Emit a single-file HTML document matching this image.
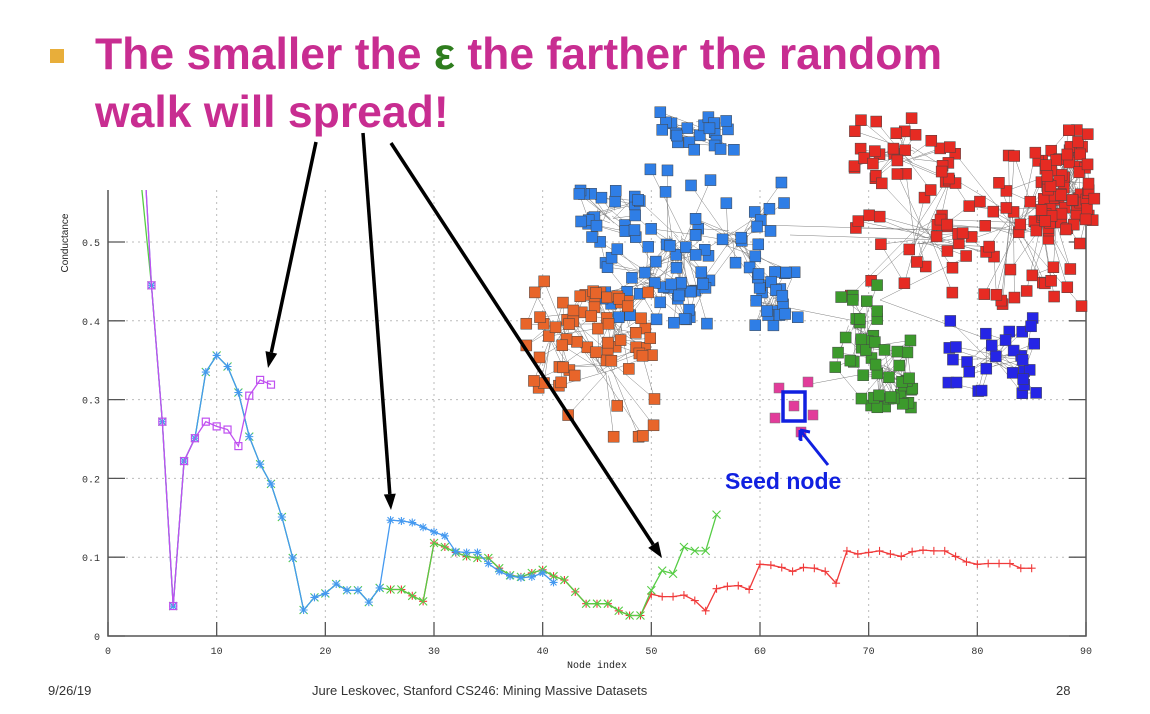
<!DOCTYPE html>
<html><head><meta charset="utf-8">
<style>
body{margin:0;background:#fff;width:1150px;height:714px;overflow:hidden;position:relative;font-family:"Liberation Sans",sans-serif}
.title{position:absolute;left:95px;top:26px;font-family:"Liberation Sans",sans-serif;font-weight:bold;font-size:44.5px;line-height:58px;color:#c82d91;letter-spacing:0px}
.bullet{position:absolute;left:50px;top:49px;width:14px;height:14px;background:#e8ae3a}
.foot{position:absolute;top:683px;font-size:13px;color:#333;font-family:"Liberation Sans Narrow","Liberation Sans",sans-serif}
svg{position:absolute;left:0;top:0}
</style></head><body>
<div class="bullet"></div>
<div class="title">The smaller the <span style="color:#2e7d1e">ε</span> the farther the random<br>walk will spread!</div>
<svg id="chart" width="1150" height="714"></svg>
<div class="foot" style="left:48px">9/26/19</div>
<div class="foot" style="left:312px">Jure Leskovec, Stanford CS246: Mining Massive Datasets</div>
<div class="foot" style="left:1056px">28</div>
<script>
const xTicks=[0,10,20,30,40,50,60,70,80,90];
const yTicks=[0,0.1,0.2,0.3,0.4,0.5];
const purpleX=[3,4,5,6,7,8,9,10,11,12,13,14,15];
const purpleY=[0.69,0.445,0.272,0.038,0.222,0.251,0.272,0.266,0.262,0.241,0.305,0.325,0.319];
const blueX=[3,4,5,6,7,8,9,10,11,12,13,14,15,16,17,18,19,20,21,22,23,24,25,26,27,28,29,30,31,32,33,34,35,36,37,38,39,40,41];
const blueY=[0.69,0.445,0.272,0.038,0.222,0.251,0.335,0.356,0.342,0.309,0.253,0.218,0.193,0.151,0.099,0.033,0.049,0.054,0.066,0.058,0.058,0.043,0.061,0.147,0.146,0.144,0.138,0.132,0.127,0.107,0.106,0.106,0.092,0.082,0.076,0.074,0.075,0.080,0.068];
const greenX=[2,4,5,6,7,8,9,10,11,12,13,14,15,16,17,18,19,20,21,22,23,24,25,26,27,28,29,30,31,32,33,34,35,36,37,38,39,40,41,42,43,44,45,46,47,48,49,50,51,52,53,54,55,56];
const greenY=[0.72,0.445,0.272,0.038,0.222,0.251,0.335,0.356,0.342,0.309,0.253,0.218,0.193,0.151,0.099,0.033,0.049,0.054,0.066,0.058,0.058,0.043,0.061,0.059,0.059,0.051,0.044,0.118,0.113,0.106,0.101,0.099,0.099,0.086,0.077,0.075,0.080,0.084,0.076,0.071,0.056,0.041,0.041,0.041,0.032,0.026,0.026,0.058,0.083,0.079,0.113,0.108,0.108,0.154];
const redX=[26,27,28,29,30,31,32,33,34,35,36,37,38,39,40,41,42,43,44,45,46,47,48,49,50,51,52,53,54,55,56,57,58,59,60,61,62,63,64,65,66,67,68,69,70,71,72,73,74,75,76,77,78,79,80,81,82,83,84,85];
const redY=[0.059,0.059,0.051,0.044,0.118,0.113,0.106,0.101,0.099,0.099,0.086,0.077,0.075,0.080,0.084,0.076,0.071,0.056,0.041,0.041,0.041,0.032,0.026,0.026,0.053,0.050,0.050,0.052,0.045,0.032,0.060,0.063,0.064,0.059,0.091,0.090,0.087,0.082,0.087,0.086,0.082,0.067,0.108,0.104,0.106,0.108,0.104,0.101,0.107,0.109,0.108,0.108,0.101,0.094,0.091,0.092,0.092,0.092,0.086,0.086];

const NS='http://www.w3.org/2000/svg';
const svg=document.getElementById('chart');
const X0=108,X1=1086,Y0=636,TOP=190;
const sx=v=>X0+(v/90)*(X1-X0);
const sy=v=>Y0-v*788;
function mk(tag,attrs,parent){const e=document.createElementNS(NS,tag);for(const k in attrs)e.setAttribute(k,attrs[k]);(parent||svg).appendChild(e);return e;}

const defs=mk('defs',{});
const cp=mk('clipPath',{id:'plotclip'},defs);
mk('rect',{x:X0,y:TOP,width:X1-X0,height:Y0-TOP},cp);

const grid=mk('g',{});


xTicks.forEach(t=>{
  if(t>0&&t<90){const l=mk('line',{x1:sx(t),x2:sx(t),y1:TOP,y2:Y0,stroke:'#bbb','stroke-dasharray':'2,4'},grid);
  
  }
  const tk=mk('line',{x1:sx(t),x2:sx(t),y1:Y0,y2:Y0-14,stroke:'#555','stroke-width':1.3});
  
  
  const tx=mk('text',{x:sx(t),y:Y0+18,'text-anchor':'middle','font-size':10,fill:'#333','font-family':'Liberation Mono, monospace'});
  tx.textContent=t;
  
  
});
yTicks.forEach(t=>{
  if(t>0){const l=mk('line',{x1:X0,x2:X1,y1:sy(t),y2:sy(t),stroke:'#bbb','stroke-dasharray':'2,4'},grid);
  
  }
  const tk=mk('line',{x1:X0,x2:X0+17,y1:sy(t),y2:sy(t),stroke:'#555','stroke-width':1.3});
  
  
  const tk2=mk('line',{x1:X1,x2:X1-17,y1:sy(t),y2:sy(t),stroke:'#555','stroke-width':1.3});
  
  
  const tx=mk('text',{x:X0-8,y:sy(t)+4,'text-anchor':'end','font-size':10,fill:'#333','font-family':'Liberation Mono, monospace'});
  tx.textContent=t===0?'0':t.toFixed(1);
  
  
});
const ax=mk('path',{d:`M${X0},${TOP} L${X0},${Y0} L${X1},${Y0} L${X1},${TOP}`,fill:'none',stroke:'#555','stroke-width':1.5});


const xt=mk('text',{x:(X0+X1)/2,y:668,'text-anchor':'middle','font-size':10,fill:'#222','font-family':'Liberation Mono, monospace'});
xt.textContent='Node index';


const yt=mk('text',{x:68,y:243,'text-anchor':'middle','font-size':10,fill:'#222',transform:'rotate(-90 68 243)','font-family':'Liberation Sans, sans-serif'});
yt.textContent='Conductance';



function series(xs,ys,color,marker,name){
  const g=mk('g',{'clip-path':'url(#plotclip)'});
  
  
  let d='';xs.forEach((x,i)=>{d+=(i?'L':'M')+sx(x)+','+sy(ys[i]);});
  mk('path',{d,fill:'none',stroke:color,'stroke-width':1.3},g);
  xs.forEach((x,i)=>{
    const cx=sx(x),cy=sy(ys[i]);
    if(cy<TOP)return;
    let m;
    if(marker==='box'){m=mk('rect',{x:cx-3.5,y:cy-3.5,width:7,height:7,fill:'none',stroke:color,'stroke-width':1.2},g);}
    else if(marker==='star'){m=mk('path',{d:`M${cx-4},${cy}h8M${cx},${cy-4}v8M${cx-3},${cy-3}l6,6M${cx-3},${cy+3}l6,-6`,stroke:color,'stroke-width':1.1},g);}
    else if(marker==='x'){m=mk('path',{d:`M${cx-4},${cy-4}l8,8M${cx-4},${cy+4}l8,-8`,stroke:color,'stroke-width':1.1},g);}
    else {m=mk('path',{d:`M${cx-4},${cy}h8M${cx},${cy-4}v8`,stroke:color,'stroke-width':1.1},g);}
    
    
  });
}
series(redX,redY,'#f03a3a','plus','series-red');
series(greenX,greenY,'#55cc44','x','series-green');
series(blueX,blueY,'#4499f0','star','series-blue');
series(purpleX,purpleY,'#c050f0','box','series-purple');

const net=mk('g',{});


let seed=7;const rnd=()=>{seed=(seed*16807)%2147483647;return seed/2147483647;};
const clusters=[
 {c:'#2f7ee6',n:140,box:[[575,190,640,240],[660,112,735,150],[630,160,720,330],[680,180,790,300],[750,270,800,330],[600,230,700,320]]},
 {c:'#e62b23',n:170,box:[[850,118,960,190],[850,170,1000,300],[940,150,1090,310],[1000,130,1095,300],[1040,150,1095,230]]},
 {c:'#e8652a',n:70,box:[[525,270,590,400],[550,300,660,440],[590,290,650,370]]},
 {c:'#3c9a2c',n:50,box:[[828,282,885,370],[860,340,915,408]]},
 {c:'#2525e6',n:30,box:[[948,318,1040,395]]}
];
const edges=mk('g',{stroke:'#555','stroke-width':0.5,opacity:0.75},net);
const nodes=mk('g',{},net);
clusters.forEach((cl)=>{
  const pts=[];
  for(let i=0;i<cl.n;i++){
    const b=cl.box[Math.floor(rnd()*cl.box.length)];
    pts.push([b[0]+rnd()*(b[2]-b[0]),b[1]+rnd()*(b[3]-b[1]),b]);
  }
  pts.forEach(p=>{
    const b=p[2];const hx=(b[0]+b[2])/2,hy=(b[1]+b[3])/2;
    mk('line',{x1:p[0],y1:p[1],x2:hx+(rnd()-0.5)*20,y2:hy+(rnd()-0.5)*20},edges);
    const q=pts[Math.floor(rnd()*pts.length)];
    if(Math.hypot(q[0]-p[0],q[1]-p[1])<50)mk('line',{x1:p[0],y1:p[1],x2:q[0],y2:q[1]},edges);
  });
  pts.forEach(p=>mk('rect',{x:p[0]-5.5,y:p[1]-5.5,width:11,height:11,fill:cl.c,stroke:'#444','stroke-width':0.5},nodes));
});
[[790,235,945,240],[750,300,850,320],[760,225,940,230],[620,300,600,345],[880,300,990,340],[960,260,880,300],[885,370,805,385],[700,240,600,330]].forEach(e=>mk('line',{x1:e[0],y1:e[1],x2:e[2],y2:e[3]},edges));
[[779,388],[808,382],[775,418],[813,415],[801,432],[794,406]].forEach(p=>mk('rect',{x:p[0]-5,y:p[1]-5,width:10,height:10,fill:'#e23c9a',stroke:'#777','stroke-width':0.5},nodes));
const seedBox=mk('rect',{x:783,y:392,width:22,height:29,fill:'none',stroke:'#1020e0','stroke-width':3.5},net);


const sa=mk('path',{d:'M800,430 L800,440 M800,430 L828,465 M800,430 L801,441 M800,430 L810,432',stroke:'#1020e0','stroke-width':3,fill:'none'},net);


const st=mk('text',{x:725,y:489,'font-size':23,'font-weight':'bold',fill:'#1020e0','font-family':'Liberation Sans, sans-serif'});
st.textContent='Seed node';



function arrow(x1,y1,x2,y2,name){
  const g=mk('g',{});
  
  
  const a=Math.atan2(y2-y1,x2-x1),L=16,W=6;
  const bx=x2-L*Math.cos(a),by=y2-L*Math.sin(a);
  mk('line',{x1,y1,x2:bx,y2:by,stroke:'#000','stroke-width':3.5},g);
  mk('polygon',{points:`${x2},${y2} ${bx-W*Math.sin(a)},${by+W*Math.cos(a)} ${bx+W*Math.sin(a)},${by-W*Math.cos(a)}`,fill:'#000'},g);
}
arrow(316,142,268,368,'arrow-to-purple');
arrow(363,133,391,510,'arrow-to-blue');
arrow(391,143,662,558,'arrow-to-green');
</script>
</body></html>
